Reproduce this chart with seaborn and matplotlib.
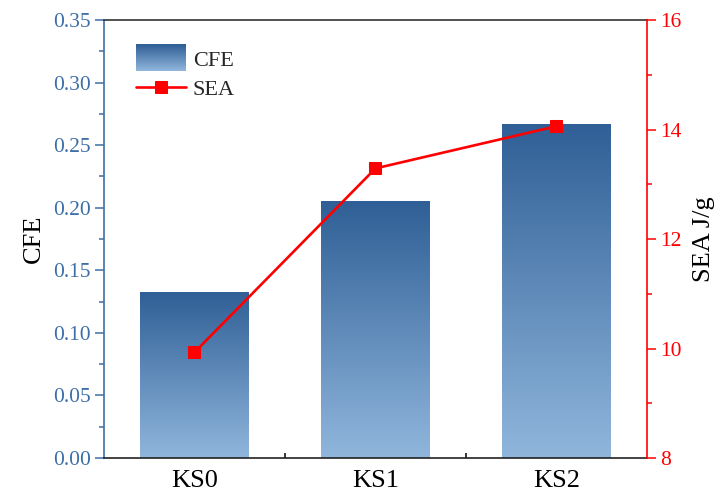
import numpy as np
import matplotlib
matplotlib.use("Agg")
import matplotlib.pyplot as plt
import seaborn as sns
import pandas as pd
from matplotlib.colors import LinearSegmentedColormap
from matplotlib.legend_handler import HandlerBase
from matplotlib.patches import Rectangle, Patch
from matplotlib.ticker import MultipleLocator, FormatStrFormatter, FixedLocator

# Data
samples = ["KS0", "KS1", "KS2"]
cfe = [0.133, 0.205, 0.267]
sea = [9.93, 13.29, 14.06]

sns.set_style("ticks")
plt.rcParams["font.family"] = ["Liberation Serif", "DejaVu Serif"]

BLUE_DARK = "#2f5f96"
BLUE_LIGHT = "#90b6dc"
AXIS_BLUE = "#3d6fa6"
RED = "#ff0000"

grad = LinearSegmentedColormap.from_list("bar_grad", [BLUE_LIGHT, BLUE_DARK])

fig = plt.figure(figsize=(7.2, 4.93), dpi=100)
ax = fig.add_axes([0.1444, 0.071, 0.7542, 0.8884])

df = pd.DataFrame({"sample": samples, "CFE": cfe, "SEA": sea})
sns.barplot(data=df, x="sample", y="CFE", ax=ax, width=0.6,
            color=BLUE_DARK, saturation=1, zorder=2)

# vertical gradient fill for each bar
gradient = np.linspace(0, 1, 256).reshape(-1, 1)
for bar in ax.patches:
    x0, y0 = bar.get_x(), bar.get_y()
    w, h = bar.get_width(), bar.get_height()
    im = ax.imshow(gradient, cmap=grad, origin="lower",
                   extent=[x0, x0 + w, y0, y0 + h], aspect="auto",
                   zorder=2, interpolation="bilinear")
    im.set_clip_path(bar)
    bar.set_facecolor("none")
    bar.set_edgecolor("none")

ax.set_xlim(-0.5, 2.5)
ax.set_ylim(0, 0.35)
ax.set_xlabel("")
ax.set_ylabel("CFE", fontsize=19, color="black", labelpad=6)

ax.yaxis.set_major_locator(MultipleLocator(0.05))
ax.yaxis.set_minor_locator(MultipleLocator(0.025))
ax.yaxis.set_major_formatter(FormatStrFormatter("%.2f"))
ax.tick_params(axis="y", which="major", direction="out", length=6.5, width=1.1,
               colors=AXIS_BLUE, labelsize=15.5, pad=3)
ax.tick_params(axis="y", which="minor", direction="out", length=3.8, width=1.1,
               colors=AXIS_BLUE)
ax.xaxis.set_minor_locator(FixedLocator([0.5, 1.5]))
ax.tick_params(axis="x", which="major", length=0, labelsize=19,
               labelcolor="black", pad=8.5)
ax.tick_params(axis="x", which="minor", direction="in", length=3.5,
               width=1.1, color="black")

ax.spines["left"].set_color(AXIS_BLUE)
ax.spines["top"].set_color("#333333")
ax.spines["bottom"].set_color("#222222")
ax.spines["right"].set_visible(False)
for s in ax.spines.values():
    s.set_linewidth(1.2)

# SEA on the secondary axis
ax2 = ax.twinx()
sns.lineplot(x=np.arange(len(samples)), y=sea, ax=ax2, color=RED,
             linewidth=1.9, marker="s", markersize=9, markeredgecolor=RED,
             label="SEA", legend=False)
ax2.set_ylim(8, 16)
ax2.yaxis.set_major_locator(MultipleLocator(2))
ax2.yaxis.set_minor_locator(MultipleLocator(1))
ax2.tick_params(axis="y", which="major", direction="out", length=6.5, width=1.1,
                colors=RED, labelsize=15.5, pad=3)
ax2.tick_params(axis="y", which="minor", direction="out", length=3.8, width=1.1,
                colors=RED)
ax2.set_ylabel("SEA J/g", fontsize=19, color="black", labelpad=8)
ax2.spines["right"].set_color(RED)
ax2.spines["right"].set_linewidth(1.2)
for side in ["left", "top", "bottom"]:
    ax2.spines[side].set_visible(False)


class GradientHandler(HandlerBase):
    def create_artists(self, legend, orig_handle, xdescent, ydescent,
                       width, height, fontsize, trans):
        n = 40
        cols = grad(np.linspace(0, 1, n))
        hh = height * 1.75
        y0 = -ydescent + height / 2 - hh / 2
        arts = []
        for i in range(n):
            arts.append(Rectangle((-xdescent, y0 + hh * i / n), width,
                                  hh / n * 1.05, facecolor=cols[i],
                                  edgecolor="none", transform=trans))
        return arts


cfe_handle = Patch(label="CFE")
sea_handle = ax2.lines[0]
leg = ax2.legend([cfe_handle, sea_handle], ["CFE", "SEA"],
                 handler_map={Patch: GradientHandler()},
                 loc="upper left", bbox_to_anchor=(0.035, 0.962),
                 frameon=False, fontsize=16, handlelength=2.25,
                 handletextpad=0.3, labelspacing=0.4, borderaxespad=0.2)

fig.savefig("out.png", dpi=100)
